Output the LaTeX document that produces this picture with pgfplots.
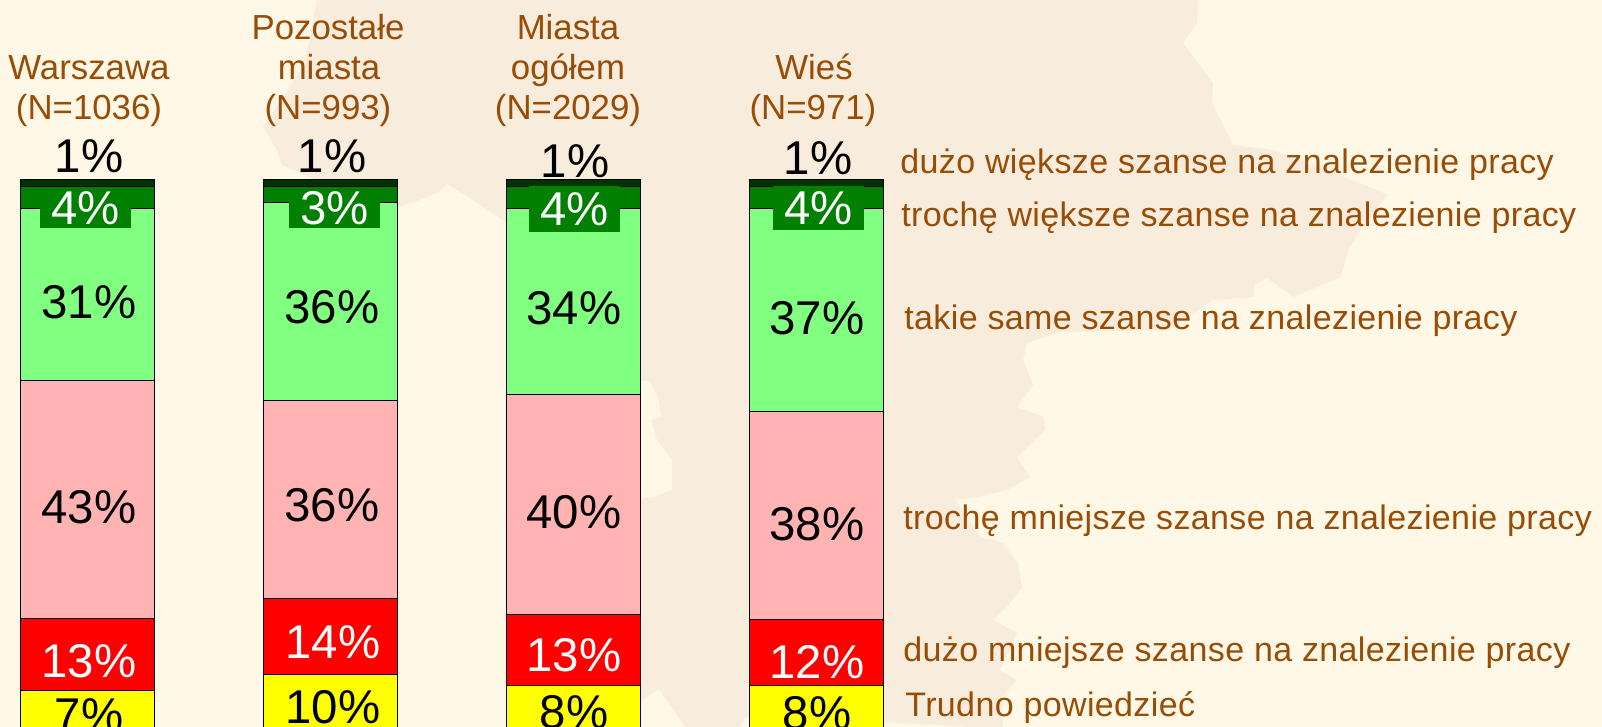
\documentclass[border=0pt]{standalone}
\usepackage{pgfplots}
\usepackage{pgfplotstable}
\usepackage{fontspec}
\pgfplotsset{compat=1.18}
\setmainfont{Liberation Sans}
\newfontfamily\legfont[LetterSpace=1.1]{Liberation Sans}

\definecolor{bgcol}{HTML}{FFF8E7}
\definecolor{mapcol}{HTML}{F8ECDD}
\definecolor{txtcol}{HTML}{994C05}
\definecolor{c1}{HTML}{003300}
\definecolor{c2}{HTML}{008000}
\definecolor{c3}{HTML}{80FF80}
\definecolor{c4}{HTML}{FFB3B3}
\definecolor{c5}{HTML}{FF0000}
\definecolor{c6}{HTML}{FFFF00}

% top to bottom: 1 4 31 43 13 7 etc, in percent
\pgfplotstableread{
x     a   b   c    d    e    f
87.5  1.2 4.0 31.0 43.1 13.1 7
330.5 1.2 2.9 35.7 35.8 13.9 10
573   1.2 4.0 33.6 39.7 12.9 8
816   1.2 4.0 36.6 37.7 11.9 8
}\bars

% label positions: x, y in image pixels, printed number
\pgfplotstableread{
x   ypx   lab
89  156   1
332 156   1
575 161   1
818 158   1
89  302   31
332 307   36
574 308   34
817 318   37
89  507   43
332 505   36
574 512   40
817 524   38
89  715   7
333 707   10
574 712   8
817 713   8
}\blacklabels

\pgfplotstableread{
x   ypx   lab
89  661   13
333 642   14
574 655   13
817 662   12
}\whitelabels

\pgfplotsset{
  base/.style={
    anchor=south west, at={(0,0)},
    scale only axis, width=801pt, height=363.5pt,
    xmin=0, xmax=1602, ymin=-32.55, ymax=98.92,
    y dir=reverse, hide axis
  },
  seg/.style={fill=#1, draw=black, line width=0.5pt},
  vallabel/.style={
    only marks, mark=none,
    point meta=explicit symbolic,
    nodes near coords={\pgfplotspointmeta\%},
    nodes near coords style={anchor=center, inner sep=0pt, font=\fontsize{23.7}{25}\selectfont, text=#1}
  },
  boxlabel/.style={
    only marks, mark=none,
    point meta=explicit symbolic,
    nodes near coords={\pgfplotspointmeta\%},
    nodes near coords style={anchor=center, inner sep=0pt, fill=c2, text=white,
      text height=16.5pt, minimum width=45.5pt, minimum height=#1,
      font=\fontsize{23.7}{25}\selectfont}
  }
}

\begin{document}
\begin{tikzpicture}
\path[use as bounding box, clip] (0,0) rectangle (801pt,363.5pt);
\fill[bgcol] (0,0) rectangle (801pt,363.5pt);

% map in the background, image pixels
\begin{scope}[shift={(0,363.5pt)}, x=0.5pt, y=-0.5pt]
\fill[mapcol] (317,-2) -- (310,40) -- (300,70) -- (273,113) -- (263,127) -- (277,150) -- (282,165)
  -- (340,190) -- (398,207) -- (423,199) -- (437,193) -- (447,184) -- (468,197) -- (503,220)
  -- (570,300) -- (640,381) -- (650,381) -- (659,400) -- (661,417) -- (651,420) -- (657,440)
  -- (672,460) -- (672,490) -- (655,497) -- (640,499) -- (630,600) -- (640,702) -- (659,689)
  -- (687,729) -- (738,729) -- (745,718) -- (760,715) -- (1003,729) -- (1002,697) -- (1017,680)
  -- (1000,670) -- (1010,650) -- (1017,633) -- (993,620) -- (1007,607) -- (1022,587) -- (1018,563)
  -- (1003,543) -- (980,537) -- (967,517) -- (955,500) -- (977,497) -- (1007,490) -- (1030,477)
  -- (1017,457) -- (1045,430) -- (1043,417) -- (1017,407) -- (1033,385) -- (1023,360) -- (1027,343)
  -- (1060,332) -- (1169,330) -- (1213,300) -- (1254,297) -- (1254,285) -- (1267,278) -- (1294,297)
  -- (1341,277) -- (1348,250) -- (1365,223) -- (1388,195) -- (1370,187) -- (1273,150) -- (1233,145)
  -- (1212,103) -- (1213,83) -- (1183,43) -- (1197,23) -- (1198,-2) -- cycle;
\end{scope}

\begin{axis}[base, ybar stacked, bar width=134]
\addplot[seg=c1] table[x=x, y=a] {\bars};
\addplot[seg=c2] table[x=x, y=b] {\bars};
\addplot[seg=c3] table[x=x, y=c] {\bars};
\addplot[seg=c4] table[x=x, y=d] {\bars};
\addplot[seg=c5] table[x=x, y=e] {\bars};
\addplot[seg=c6] table[x=x, y=f] {\bars};
\end{axis}

\begin{axis}[base]
\addplot[vallabel=black] table[x=x, y expr={(\thisrow{ypx}-180)/5.53}, meta=lab] {\blacklabels};
\addplot[vallabel=white] table[x=x, y expr={(\thisrow{ypx}-180)/5.53}, meta=lab] {\whitelabels};
\addplot[boxlabel=20.5pt] table[x=x, y expr={(\thisrow{ypx}-180)/5.53}, meta=lab] {
x   ypx   lab
85.5  208 4
334.5 208 3
};
\addplot[boxlabel=23pt] table[x=x, y expr={(\thisrow{ypx}-180)/5.53}, meta=lab] {
x   ypx   lab
574.5 209.5 4
};
\addplot[boxlabel=22pt] table[x=x, y expr={(\thisrow{ypx}-180)/5.53}, meta=lab] {
x   ypx   lab
818.5 208.5 4
};
\end{axis}

% category and answer labels, image pixels, baseline anchored
\begin{scope}[shift={(0,363.5pt)}, x=0.5pt, y=-0.5pt,
    every node/.style={inner sep=0pt, text=txtcol, font=\fontsize{17.4}{20}\selectfont}]
\node[anchor=base] at (89,79.5) {Warszawa};
\node[anchor=base] at (89,119.5) {(N=1036)};
\node[anchor=base] at (328,39.5) {Pozostałe};
\node[anchor=base] at (329,79.5) {miasta};
\node[anchor=base] at (328,119.5) {(N=993)};
\node[anchor=base] at (568,39.5) {Miasta};
\node[anchor=base] at (568,79.5) {ogółem};
\node[anchor=base] at (568,119.5) {(N=2029)};
\node[anchor=base] at (814,79.5) {Wieś};
\node[anchor=base] at (813,119.5) {(N=971)};
\begin{scope}[every node/.append style={font=\fontsize{17}{20}\selectfont}]
\node[anchor=base west] at (900,173.5) {\legfont dużo większe szanse na znalezienie pracy};
\node[anchor=base west] at (901,226.5) {\legfont trochę większe szanse na znalezienie pracy};
\node[anchor=base west] at (904,329.5) {\legfont takie same szanse na znalezienie pracy};
\node[anchor=base west] at (903,529.5) {\legfont trochę mniejsze szanse na znalezienie pracy};
\node[anchor=base west] at (903,661.5) {\legfont dużo mniejsze szanse na znalezienie pracy};
\node[anchor=base west] at (905,716.5) {\legfont Trudno powiedzieć};
\end{scope}
\end{scope}
\end{tikzpicture}
\end{document}
